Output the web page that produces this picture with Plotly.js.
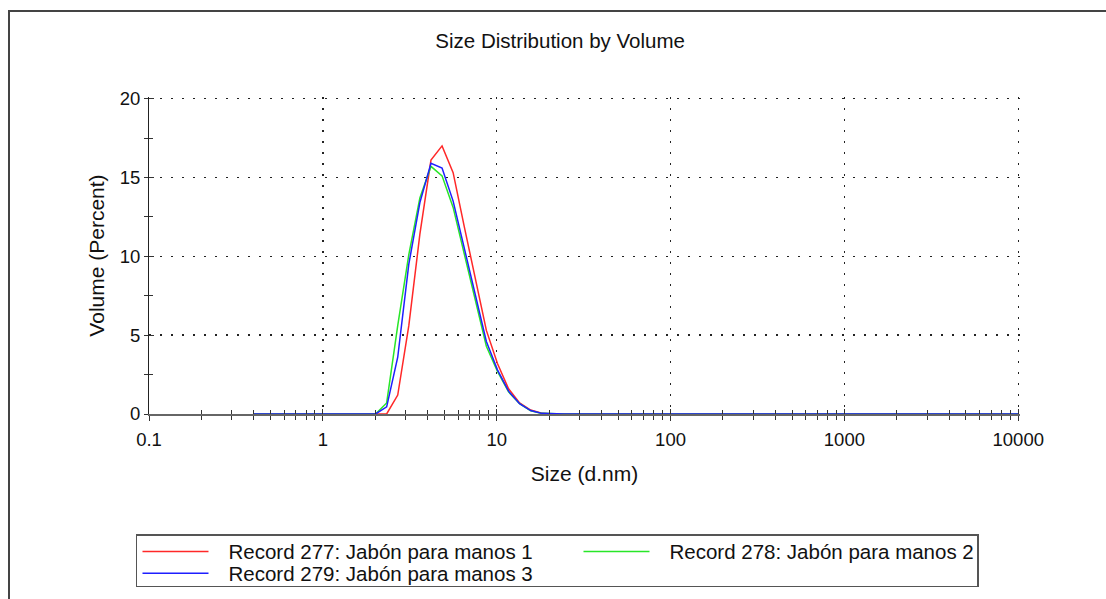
<!DOCTYPE html>
<html>
<head>
<meta charset="utf-8">
<script src="https://cdn.plot.ly/plotly-3.0.1.min.js"></script>
<style>
  html, body { margin: 0; padding: 0; background: #ffffff; }
  #wrap { position: relative; width: 1106px; height: 599px; overflow: hidden; }
  #chart { position: absolute; left: 0; top: 0; width: 1106px; height: 599px; }
  #frame { position: absolute; left: 8px; top: 10px; width: 1200px; height: 700px;
           border-left: 2px solid #444; border-top: 2px solid #444; pointer-events: none; }
</style>
</head>
<body>
<div id="wrap">
  <div id="chart"></div>
  <div id="frame"></div>
</div>
<script>
// Size bins (d.nm)
const sizes = [0.4, 0.4632, 0.5365, 0.6213, 0.7195, 0.8332, 0.9649, 1.117, 1.294, 1.499,
  1.736, 2.01, 2.328, 2.696, 3.122, 3.615, 4.187, 4.849, 5.615, 6.503,
  7.531, 8.721, 10.1, 11.7, 13.54, 15.69, 18.17, 21.04, 24.36, 28.21,
  32.67, 37.84, 43.82, 50.75, 58.77, 68.06, 78.82, 91.28, 105.7, 122.4,
  141.8, 164.2, 190.1, 220.2, 255.0, 295.3, 342.0, 396.1, 458.7, 531.2,
  615.1, 712.4, 825.0, 955.4, 1106, 1281, 1484, 1718, 1990, 2305,
  2669, 3091, 3580, 4145, 4801, 5560, 6439, 7456, 8635, 10000];

// Volume (%) per record
const rec277 = [0, 0, 0, 0, 0, 0, 0, 0, 0, 0,
  0, 0, 0, 1.2, 5.6, 11.4, 16.1, 17.0, 15.3, 11.9,
  8.5, 5.3, 3.2, 1.6, 0.7, 0.25, 0.05, 0, 0, 0,
  0, 0, 0, 0, 0, 0, 0, 0, 0, 0,
  0, 0, 0, 0, 0, 0, 0, 0, 0, 0,
  0, 0, 0, 0, 0, 0, 0, 0, 0, 0,
  0, 0, 0, 0, 0, 0, 0, 0, 0, 0];
const rec278 = [0, 0, 0, 0, 0, 0, 0, 0, 0, 0,
  0, 0, 0.7, 5.6, 10.1, 13.7, 15.7, 15.1, 13.1, 10.2,
  7.2, 4.3, 2.7, 1.4, 0.65, 0.2, 0.04, 0, 0, 0,
  0, 0, 0, 0, 0, 0, 0, 0, 0, 0,
  0, 0, 0, 0, 0, 0, 0, 0, 0, 0,
  0, 0, 0, 0, 0, 0, 0, 0, 0, 0,
  0, 0, 0, 0, 0, 0, 0, 0, 0, 0];
const rec279 = [0, 0, 0, 0, 0, 0, 0, 0, 0, 0,
  0, 0, 0.45, 3.6, 9.5, 13.4, 15.9, 15.6, 13.5, 10.5,
  7.6, 4.6, 2.8, 1.45, 0.65, 0.22, 0.04, 0, 0, 0,
  0, 0, 0, 0, 0, 0, 0, 0, 0, 0,
  0, 0, 0, 0, 0, 0, 0, 0, 0, 0,
  0, 0, 0, 0, 0, 0, 0, 0, 0, 0,
  0, 0, 0, 0, 0, 0, 0, 0, 0, 0];

const seriesNames = ['Record 277: Jabón para manos 1', 'Record 278: Jabón para manos 2', 'Record 279: Jabón para manos 3'];
const xTickVals = [0.1, 1, 10, 100, 1000, 10000];
const xTickText = ['0.1', '1', '10', '100', '1000', '10000'];
const yTickVals = [0, 5, 10, 15, 20];
const yTickText = ['0', '5', '10', '15', '20'];

const FONT = 'Liberation Sans, Arial, Helvetica, sans-serif';
const DOTS = '1.5px,9.5px';

const traces = [
  { x: sizes, y: rec277, name: seriesNames[0], type: 'scatter', mode: 'lines',
    line: { color: 'rgb(255,40,40)', width: 1.5 } },
  { x: sizes, y: rec278, name: seriesNames[1], type: 'scatter', mode: 'lines',
    line: { color: 'rgb(40,230,40)', width: 1.5 } },
  { x: sizes, y: rec279, name: seriesNames[2], type: 'scatter', mode: 'lines',
    line: { color: 'rgb(30,30,255)', width: 1.5 } },
  { x: [], y: [], xaxis: 'x2', yaxis: 'y2', showlegend: false, hoverinfo: 'skip', type: 'scatter', mode: 'lines' }
];

// ranges nudged just past the last gridline so Plotly keeps the edge gridlines
const X_RANGE = [-1, 4.01];
const Y_RANGE = [0, 20.1];

const PLOT_W = 1106 - 149 - 86.3;
const PLOT_H = 599 - 97.4 - 185;

const layout = {
  width: 1106, height: 599,
  margin: { l: 149, r: 86.3, t: 97.4, b: 185, pad: 0, autoexpand: false },
  paper_bgcolor: '#ffffff', plot_bgcolor: '#ffffff',
  font: { family: FONT, color: '#111', size: 18 },
  showlegend: true,
  title: { text: 'Size Distribution by Volume', font: { family: FONT, size: 20.5, color: '#111' },
           xref: 'paper', x: 0.472, xanchor: 'center', yref: 'container', y: 1 - 41 / 599, yanchor: 'middle' },
  xaxis: {
    type: 'log', range: X_RANGE, layer: 'below traces',
    tickvals: xTickVals, ticktext: xTickText, tickfont: { size: 18.5 },
    ticks: 'outside', ticklen: 5, tickcolor: '#333', tickwidth: 1, ticklabelstandoff: 3,
    minor: { dtick: 'D1', ticks: 'outside', ticklen: 4, tickcolor: '#333', showgrid: false },
    showline: true, linecolor: '#666', linewidth: 2,
    showgrid: true, gridcolor: '#222', gridwidth: 1.3, griddash: DOTS,
    zeroline: false,
    title: { text: 'Size (d.nm)', font: { size: 21 }, standoff: 17 }
  },
  yaxis: {
    range: Y_RANGE, layer: 'below traces',
    tickvals: yTickVals, ticktext: yTickText, tickfont: { size: 18.5 },
    ticks: 'outside', ticklen: 4, tickcolor: '#333', tickwidth: 1,
    minor: { dtick: 2.5, ticks: 'outside', ticklen: 4, tickcolor: '#333', showgrid: false },
    showline: true, linecolor: '#222', linewidth: 1,
    showgrid: true, gridcolor: '#222', gridwidth: 1.3, griddash: DOTS,
    zeroline: false,
    title: { text: 'Volume (Percent)', font: { size: 21 }, standoff: 9 }
  },
  xaxis2: {
    type: 'log', range: X_RANGE, overlaying: 'x', anchor: 'y', side: 'bottom',
    tickvals: xTickVals, showticklabels: false,
    ticks: 'inside', ticklen: 5, tickcolor: '#333',
    minor: { dtick: 'D1', ticks: 'inside', ticklen: 4, tickcolor: '#333', showgrid: false },
    showgrid: false, showline: false, zeroline: false
  },
  yaxis2: {
    range: Y_RANGE, overlaying: 'y', anchor: 'x', side: 'left',
    tickvals: yTickVals, showticklabels: false,
    ticks: 'inside', ticklen: 5, tickcolor: '#333',
    minor: { dtick: 2.5, ticks: 'inside', ticklen: 4, tickcolor: '#333', showgrid: false },
    showgrid: false, showline: false, zeroline: false
  },
  legend: {
    orientation: 'h', xref: 'paper', yref: 'paper',
    x: (136 - 149) / PLOT_W, y: (414 - 534) / PLOT_H, xanchor: 'left', yanchor: 'top',
    bordercolor: '#555', borderwidth: 1.5, bgcolor: '#ffffff',
    font: { family: FONT, size: 20.5, color: '#111' },
    entrywidth: 345, entrywidthmode: 'pixels', itemwidth: 81,
    tracegroupgap: 0
  }
};

function parseTranslate(t) {
  const m = /translate\(\s*([-\d.e]+)[ ,]+([-\d.e]+)\s*\)/.exec(t || '');
  return m ? [parseFloat(m[1]), parseFloat(m[2])] : null;
}

Plotly.newPlot('chart', traces, layout, { staticPlot: true, displayModeBar: false }).then(function (gd) {
  try {
    const leg = gd.querySelector('g.legend');
    if (!leg) return;
    // shorter sample lines, as in the reference legend
    leg.querySelectorAll('.legendlines path').forEach(function (p) {
      const d = p.getAttribute('d') || '';
      p.setAttribute('d', d.replace(/h[-\d.]+/, 'h66'));
    });
    // tighter row spacing
    const items = Array.from(leg.querySelectorAll('g.traces'));
    const ys = Array.from(new Set(items.map(function (g) {
      const t = parseTranslate(g.getAttribute('transform')); return t ? t[1] : 0;
    }))).sort(function (a, b) { return a - b; });
    const ROW_SHIFT = [-4, -12];
    items.forEach(function (g) {
      const t = parseTranslate(g.getAttribute('transform'));
      if (!t) return;
      const row = ys.indexOf(t[1]);
      const s = ROW_SHIFT[Math.min(row, ROW_SHIFT.length - 1)];
      g.setAttribute('transform', 'translate(' + t[0] + ',' + (t[1] + s) + ')');
    });
    const bg = leg.querySelector('rect.bg');
    if (bg) {
      const h = parseFloat(bg.getAttribute('height'));
      bg.setAttribute('height', h - 20);
      // fit the box width to the widest text
      const bgBox = bg.getBoundingClientRect();
      let right = 0;
      leg.querySelectorAll('text.legendtext').forEach(function (tx) {
        right = Math.max(right, tx.getBoundingClientRect().right);
      });
      if (right > 0) bg.setAttribute('width', right - bgBox.left + 4);
    }
  } catch (e) { /* keep default legend */ }
});
</script>
</body>
</html>
